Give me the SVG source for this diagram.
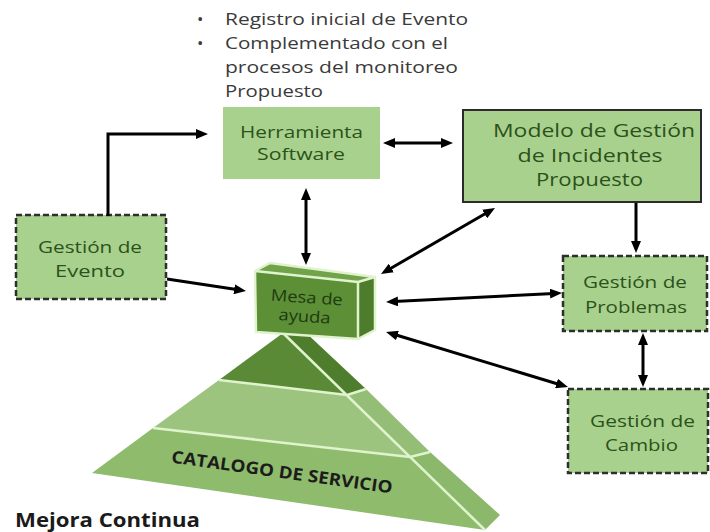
<svg xmlns="http://www.w3.org/2000/svg" width="710" height="532" viewBox="0 0 710 532">
  <style>
    .box { fill: #a9d18e; }
    .dash { stroke: #2e2e2e; stroke-width: 2.5; stroke-dasharray: 6 3; }
    .solid { stroke: #2b2b2b; stroke-width: 2; }
    .lbl { font-family: "Open Sans", "Liberation Sans", sans-serif; fill: #2c521a; text-anchor: middle; }
    .note { font-family: "Open Sans", "Liberation Sans", sans-serif; fill: #3a3a3a; font-size: 17px; }
    .conn { stroke: #000; stroke-width: 3; fill: none; }
    .edge { stroke: #dff3cd; stroke-width: 2.5; fill: none; stroke-linejoin: round; }
  </style>
  <defs>
    <marker id="arrow" markerUnits="userSpaceOnUse" markerWidth="12" markerHeight="10" refX="4" refY="5" orient="auto-start-reverse">
      <path d="M0,0 L12,5 L0,10 z" fill="#000"/>
    </marker>
  </defs>

  <rect width="710" height="532" fill="#fff"/>

  <!-- notes above the software tool -->
  <g id="notes" class="note">
    <text x="197" y="25">•</text>
    <text x="225" y="25" textLength="243" lengthAdjust="spacingAndGlyphs">Registro inicial de Evento</text>
    <text x="197" y="49">•</text>
    <text x="225" y="49" textLength="223" lengthAdjust="spacingAndGlyphs">Complementado con el</text>
    <text x="225" y="73" textLength="233" lengthAdjust="spacingAndGlyphs">procesos del monitoreo</text>
    <text x="225" y="97" textLength="98" lengthAdjust="spacingAndGlyphs">Propuesto</text>
  </g>

  <!-- service catalogue pyramid -->
  <g id="piramide">
    <!-- front face bands -->
    <polygon points="92,473 153,428 410,457 485,530" fill="#8fbb6d"/>
    <polygon points="153,428 219,380 347,395 410,457" fill="#9dc47f"/>
    <polygon points="219,380 283,333 347,395" fill="#5b8a37"/>
    <!-- right face bands -->
    <polygon points="283,333 303,330 366,389 347,395" fill="#4f7d2e"/>
    <polygon points="347,395 366,389 430,452 410,457" fill="#94bd76"/>
    <polygon points="410,457 430,452 500,515 485,530" fill="#8cb86c"/>
    <!-- highlight edges -->
    <path class="edge" d="M283,333 L485,530 M219,380 L347,395 L366,389 M153,428 L410,457 L430,452"/>
    <text x="282" y="478" transform="rotate(8 282 472)" font-family="'Open Sans', 'Liberation Sans', sans-serif" font-weight="bold" font-size="17" fill="#1c1c1c" text-anchor="middle" textLength="223" lengthAdjust="spacingAndGlyphs">CATALOGO DE SERVICIO</text>
  </g>

  <!-- help desk block -->
  <g id="mesa">
    <polygon points="255,271 358,282 358,339 256,332" fill="#5c8f36"/>
    <polygon points="255,271 270,263 375,277 358,282" fill="#72a24a"/>
    <polygon points="358,282 375,277 375,330 358,339" fill="#4d7d2c"/>
    <path class="edge" d="M256,332 L255,271 L270,263 L375,277 L375,330 L358,339 Z M255,271 L358,282 L375,277 M358,282 L358,339"/>
    <g transform="rotate(4 306 310)">
      <text class="lbl" x="306" y="303" font-size="16" style="fill:#1e3a10" textLength="72" lengthAdjust="spacingAndGlyphs">Mesa de</text>
      <text class="lbl" x="305" y="322" font-size="16" style="fill:#1e3a10" textLength="52" lengthAdjust="spacingAndGlyphs">ayuda</text>
    </g>
  </g>

  <g id="herramienta">
    <rect class="box" x="223" y="107" width="157" height="72" fill="#a7d08c"/>
    <text class="lbl" x="301.5" y="138" font-size="17" textLength="123" lengthAdjust="spacingAndGlyphs">Herramienta</text>
    <text class="lbl" x="301" y="160" font-size="17" textLength="88" lengthAdjust="spacingAndGlyphs">Software</text>
  </g>

  <g id="modelo">
    <rect class="box solid" x="463" y="110" width="238" height="92"/>
    <text class="lbl" x="594" y="137" font-size="18" textLength="202" lengthAdjust="spacingAndGlyphs">Modelo de Gestión</text>
    <text class="lbl" x="590" y="162" font-size="18" textLength="145" lengthAdjust="spacingAndGlyphs">de Incidentes</text>
    <text class="lbl" x="589.5" y="186" font-size="18" textLength="107" lengthAdjust="spacingAndGlyphs">Propuesto</text>
  </g>

  <g id="evento">
    <rect class="box dash" x="16" y="215" width="150" height="84"/>
    <text class="lbl" x="90" y="253" font-size="17" textLength="104" lengthAdjust="spacingAndGlyphs">Gestión de</text>
    <text class="lbl" x="90" y="277" font-size="17" textLength="70" lengthAdjust="spacingAndGlyphs">Evento</text>
  </g>

  <g id="problemas">
    <rect class="box dash" x="563" y="256" width="144" height="75"/>
    <text class="lbl" x="635" y="288" font-size="17" textLength="104" lengthAdjust="spacingAndGlyphs">Gestión de</text>
    <text class="lbl" x="636" y="313" font-size="17" textLength="102" lengthAdjust="spacingAndGlyphs">Problemas</text>
  </g>

  <g id="cambio">
    <rect class="box dash" x="568" y="389" width="140" height="84"/>
    <text class="lbl" x="642.5" y="427" font-size="17" textLength="105" lengthAdjust="spacingAndGlyphs">Gestión de</text>
    <text class="lbl" x="641.5" y="451" font-size="17" textLength="73" lengthAdjust="spacingAndGlyphs">Cambio</text>
  </g>

  <!-- connectors -->
  <g id="conectores" class="conn">
    <path d="M108,216 V134 H200" marker-end="url(#arrow)"/>
    <path d="M391,143 H445" marker-start="url(#arrow)" marker-end="url(#arrow)"/>
    <path d="M306,196 V257" marker-start="url(#arrow)" marker-end="url(#arrow)"/>
    <path d="M488.1,212 L387.9,270" marker-start="url(#arrow)" marker-end="url(#arrow)"/>
    <path d="M636,203 V245" marker-end="url(#arrow)"/>
    <path d="M167,279 L238.1,289.8" marker-end="url(#arrow)"/>
    <path d="M394,301.6 L554,293.4" marker-start="url(#arrow)" marker-end="url(#arrow)"/>
    <path d="M393.7,334.3 L560.3,384.7" marker-start="url(#arrow)" marker-end="url(#arrow)"/>
    <path d="M643,341 V379" marker-start="url(#arrow)" marker-end="url(#arrow)"/>
  </g>

  <text x="15" y="527" font-family="'Open Sans', 'Liberation Sans', sans-serif" font-weight="bold" font-size="20" fill="#1a1a1a" textLength="185" lengthAdjust="spacingAndGlyphs">Mejora Continua</text>
</svg>
